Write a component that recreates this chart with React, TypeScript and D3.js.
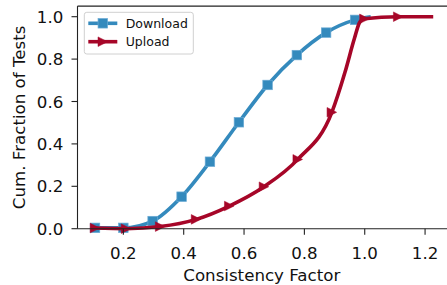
import React from "react";
import * as d3 from "d3";

const W = 447;
const H = 285;

// Download series (line points; markers where dlMark is true)
const dlX = [0.106, 0.2, 0.297, 0.393, 0.487, 0.583, 0.678, 0.775, 0.872, 0.968, 1.02];
const dlY = [0.004, 0.004, 0.036, 0.151, 0.316, 0.502, 0.678, 0.819, 0.925, 0.985, 1.0];
const dlMark = [true, true, true, true, true, true, true, true, true, true, false];

// Upload series
const ulX = [0.106, 0.209, 0.322, 0.441, 0.551, 0.666, 0.778, 0.891, 0.935, 0.966, 0.984, 0.999, 1.111, 1.227];
const ulY = [0.003, 0.0, 0.01, 0.044, 0.107, 0.198, 0.327, 0.549, 0.74, 0.898, 0.976, 0.99, 1.0, 1.0];
const ulMark = [true, true, true, true, true, true, true, true, false, false, false, true, true, false];

const xTicks = [0.2, 0.4, 0.6, 0.8, 1.0, 1.2];
const yTicks = [0.0, 0.2, 0.4, 0.6, 0.8, 1.0];

const seriesNames = ["Download", "Upload"];
const BLUE = "#348ABD";
const RED = "#A60628";
const FONT = "DejaVu Sans, sans-serif";

export default function App() {
  const left = 77.5;
  const right = 448;
  const top = 6.1;
  const bottom = 228.7;
  const x = d3.scaleLinear().domain([0.048, 1.276]).range([left, right]);
  const y = d3.scaleLinear().domain([0, 1.05]).range([bottom, top]);

  const line = d3
    .line<[number, number]>()
    .x((d) => x(d[0]))
    .y((d) => y(d[1]))
    .curve(d3.curveMonotoneX);

  const dl: [number, number][] = dlX.map((v, i) => [v, dlY[i]]);
  const ul: [number, number][] = ulX.map((v, i) => [v, ulY[i]]);

  const sq = 9.5;
  const tri = (cx: number, cy: number, r = 4.8) =>
    `M${cx - r},${cy - r}L${cx + r},${cy}L${cx - r},${cy + r}Z`;

  const lgX = 84.3;
  const lgY = 12.3;
  const lgW = 109;
  const lgH = 41.7;
  const rowY = [23.3, 41.7];

  return (
    <div style={{ position: "absolute", left: 0, top: 0 }}>
      <svg width={W} height={H} viewBox={`0 0 ${W} ${H}`} style={{ display: "block", background: "#fff" }} fontFamily={FONT}>
        <rect x={0} y={0} width={W} height={H} fill="#fff" />
        {/* lines */}
        <path d={line(dl) || ""} fill="none" stroke={BLUE} strokeWidth={3.6} strokeLinejoin="round" />
        {dl.map((d, i) =>
          dlMark[i] ? (
            <rect
              key={"dm" + i}
              x={x(d[0]) - sq / 2}
              y={y(d[1]) - sq / 2}
              width={sq}
              height={sq}
              fill={BLUE}
              stroke="#6aaad4"
              strokeWidth={0.7}
            />
          ) : null
        )}
        <path d={line(ul) || ""} fill="none" stroke={RED} strokeWidth={3.6} strokeLinejoin="round" />
        {ul.map((d, i) =>
          ulMark[i] ? <path key={"um" + i} d={tri(x(d[0]), y(d[1]))} fill={RED} stroke={RED} strokeWidth={0.5} /> : null
        )}

        {/* spines */}
        <line x1={left} x2={left} y1={top} y2={bottom} stroke="#222" strokeWidth={1.1} />
        <line x1={left} x2={right} y1={bottom} y2={bottom} stroke="#222" strokeWidth={1.1} />
        <line x1={left} x2={right} y1={top} y2={top} stroke="#222" strokeWidth={1.1} />

        {/* y ticks */}
        {yTicks.map((t) => (
          <g key={"y" + t}>
            <line x1={left - 6} x2={left} y1={y(t)} y2={y(t)} stroke="#222" strokeWidth={1.1} />
            <text x={63.3} y={y(t) + 6} textAnchor="end" fontSize={16.67} fill="#111">
              {t.toFixed(1)}
            </text>
          </g>
        ))}
        {/* x ticks */}
        {xTicks.map((t) => (
          <g key={"x" + t}>
            <line x1={x(t)} x2={x(t)} y1={bottom} y2={bottom + 6} stroke="#222" strokeWidth={1.1} />
            <text x={x(t)} y={258.6} textAnchor="middle" fontSize={16.67} fill="#111">
              {t.toFixed(1)}
            </text>
          </g>
        ))}

        {/* axis labels */}
        <text x={(left + 448) / 2 - 1} y={281.3} textAnchor="middle" fontSize={16.67} fill="#111">
          Consistency Factor
        </text>
        <text
          transform={`translate(25,117.4) rotate(-90)`}
          textAnchor="middle"
          fontSize={16.67}
          fill="#111"
        >
          Cum. Fraction of Tests
        </text>

        {/* legend */}
        <rect x={lgX} y={lgY} width={lgW} height={lgH} rx={2.5} fill="#fff" fillOpacity={0.8} stroke="#d0d0d0" strokeWidth={1} />
        <line x1={88.3} x2={117.3} y1={rowY[0]} y2={rowY[0]} stroke={BLUE} strokeWidth={3.6} />
        <rect x={102.8 - sq / 2} y={rowY[0] - sq / 2} width={sq} height={sq} fill={BLUE} stroke="#6aaad4" strokeWidth={0.7} />
        <line x1={88.3} x2={117.3} y1={rowY[1]} y2={rowY[1]} stroke={RED} strokeWidth={3.6} />
        <path d={tri(102.8, rowY[1])} fill={RED} stroke={RED} strokeWidth={0.5} />
        {seriesNames.map((n, i) => (
          <text key={n} x={125.7} y={rowY[i] + 4.5} fontSize={12.5} fill="#111">
            {n}
          </text>
        ))}
      </svg>
    </div>
  );
}
